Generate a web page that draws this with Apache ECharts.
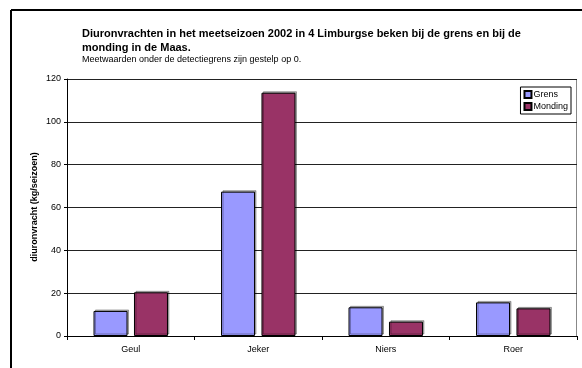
<!DOCTYPE html>
<html><head><meta charset="utf-8">
<script src="https://cdn.jsdelivr.net/npm/echarts@6/dist/echarts.min.js"></script>
<style>html,body{margin:0;padding:0;background:#fff}#c{width:582px;height:368px}</style>
</head><body><div id="c"></div>
<script>
const categories = ['Geul', 'Jeker', 'Niers', 'Roer'];
const grens = [11.7, 67.4, 13.4, 15.7];
const monding = [20.4, 113.6, 6.7, 12.9];
const yTicks = [0, 20, 40, 60, 80, 100, 120];

const chart = echarts.init(document.getElementById('c'), null, {renderer: 'canvas'});
const font = 'Liberation Sans, Arial, sans-serif';
chart.setOption({
  animation: false,
  backgroundColor: '#fff',
  textStyle: {fontFamily: font},
  graphic: [
    {type: 'line', shape: {x1: 11, y1: 10, x2: 582, y2: 10}, style: {stroke: '#000', lineWidth: 2}},
    {type: 'line', shape: {x1: 11, y1: 10, x2: 11, y2: 368}, style: {stroke: '#000', lineWidth: 2}},
    {type: 'text', left: 82, top: 27, style: {text: 'Diuronvrachten in het meetseizoen 2002 in 4 Limburgse beken bij de grens en bij de\nmonding in de Maas.', font: 'bold 11px ' + font, fill: '#000', lineHeight: 14}},
    {type: 'text', left: 82, top: 55, style: {text: 'Meetwaarden onder de detectiegrens zijn gestelp op 0.', font: '9px ' + font, fill: '#000'}},
    {type: 'text', x: 35, y: 207, rotation: Math.PI / 2, style: {text: 'diuronvracht (kg/seizoen)', font: 'bold 9px ' + font, fill: '#000', align: 'center', verticalAlign: 'middle'}},
    {type: 'line', shape: {x1: 576.5, y1: 79, x2: 576.5, y2: 336}, style: {stroke: '#888', lineWidth: 1}}
  ],
  legend: {
    right: 11, top: 87, orient: 'vertical', itemWidth: 7, itemHeight: 7, itemGap: 3,
    padding: [3, 3, 3, 3], borderColor: '#000', borderWidth: 1,
    textStyle: {fontSize: 9, fontFamily: font, color: '#000', padding: [0, 0, 0, -3]},
    data: [{name: 'Grens', icon: 'rect'}, {name: 'Monding', icon: 'rect'}]
  },
  grid: {left: 67, right: 5, top: 79, bottom: 32},
  xAxis: {
    type: 'category', data: categories,
    axisLine: {lineStyle: {color: '#000', width: 1}},
    axisTick: {show: true, length: 4, lineStyle: {color: '#000'}},
    axisLabel: {fontSize: 9, color: '#000', margin: 9, fontFamily: font}
  },
  yAxis: {
    type: 'value', min: yTicks[0], max: yTicks[yTicks.length - 1], interval: 20,
    axisLine: {show: true, lineStyle: {color: '#000'}},
    axisTick: {show: true, length: 3, inside: false, lineStyle: {color: '#000'}},
    axisLabel: {fontSize: 9, color: '#000', margin: 6, fontFamily: font},
    splitLine: {lineStyle: {color: '#222', width: 1}}
  },
  series: [
    {name: 'Grens', type: 'bar', data: grens, barWidth: 34, barGap: '19%',
     itemStyle: {color: '#9999FF', borderColor: '#000', borderWidth: 1, shadowColor: 'rgba(0,0,0,0.3)', shadowOffsetX: 1.5, shadowOffsetY: -1.5}},
    {name: 'Monding', type: 'bar', data: monding, barWidth: 34,
     itemStyle: {color: '#993366', borderColor: '#000', borderWidth: 1, shadowColor: 'rgba(0,0,0,0.3)', shadowOffsetX: 1.5, shadowOffsetY: -1.5}}
  ]
});
</script></body></html>
